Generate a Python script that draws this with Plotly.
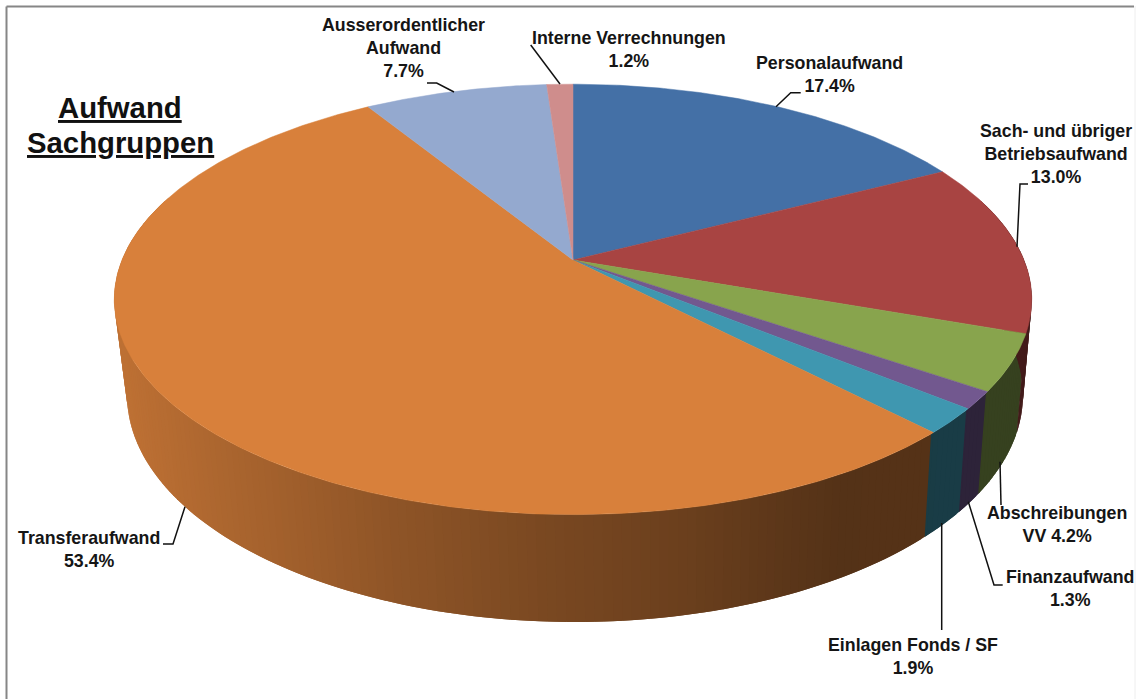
import numpy as np
import plotly.graph_objects as go

# ---- data ----
categories = ["Personalaufwand", "Sach- und übriger Betriebsaufwand", "Abschreibungen VV",
              "Finanzaufwand", "Einlagen Fonds / SF", "Transferaufwand",
              "Ausserordentlicher Aufwand", "Interne Verrechnungen"]
shares = [17.4, 13.0, 4.2, 1.3, 1.9, 53.4, 7.7, 1.2]
colors = ["#4470A6", "#A84442", "#88A44D", "#72588F", "#3F97B0", "#D8803B", "#94A9CF", "#CF8D8C"]
label_text = ["Personalaufwand<br>17.4%", "Sach- und übriger<br>Betriebsaufwand<br>13.0%",
              "Abschreibungen<br>VV 4.2%", "Finanzaufwand<br>1.3%", "Einlagen Fonds / SF<br>1.9%",
              "Transferaufwand<br>53.4%", "Ausserordentlicher<br>Aufwand<br>7.7%",
              "Interne Verrechnungen<br>1.2%"]
title_lines = ["Aufwand", "Sachgruppen"]

# ---- layout constants (pixel-like axis units) ----
label_pos = [(829, 74), (1056, 153.5), (1056.5, 524.5), (1069.5, 588.5), (913, 656), (89, 549.5), (403, 47.5), (629, 49)]
title_pos = [(120, 107), (120, 142)]
leaders = [[(800.7, 92.7), (790.7, 92.7), (776, 106.7)],
           [(1028, 184), (1020, 184), (1017, 246.7)],
           [(1000, 461.7), (1001, 505)],
           [(968.3, 501.7), (994, 585), (1002.7, 585)],
           [(941.7, 523), (941.7, 630)],
           [(185, 506.7), (173, 544), (163, 544)],
           [(427, 83), (436.7, 83), (454, 92)],
           [(530.7, 45), (560, 84)]]
W, H = 1138, 699
K = 0.183
TOP = dict(x0=573.0, y0=260.0, A=451.0, B=208.0)
LOW = dict(x0=575.0, y0=353.5, A=440.4, B=219.4)
FONT = "Liberation Sans, Arial, sans-serif"


def project(theta_deg, p):
    t = np.radians(theta_deg)
    u, v = np.sin(t), np.cos(t)
    d = 1 + K * v
    return p["x0"] + p["A"] * u / d, p["y0"] - p["B"] * v / d


def shade(x):
    return float(np.interp(x, [115, 130, 400, 560, 700, 800, 850, 1040],
                           [.88, .87, .66, .56, .49, .42, .39, .40]))


def darker(hex_color, f):
    rgb = [int(hex_color[i:i + 2], 16) for i in (1, 3, 5)]
    return "rgb(%d,%d,%d)" % tuple(round(c * f) for c in rgb)


fig = go.Figure()
# the printed percentages add up to 100.1 through rounding; the last wedge closes the circle
cum = np.minimum(np.concatenate([[0], np.cumsum(shares)]) * 3.6, 360.0)

# side wall: overlapping bands, each covering the seam of the previous one
STEP = 1.0
OVERLAP = 1.0
for i in range(len(shares) - 1, -1, -1):
    col = colors[i]
    a0, a1 = cum[i], cum[i + 1]
    n = max(1, int(np.ceil((a1 - a0) / STEP)))
    edges = np.linspace(a0, a1, n + 1)
    for s, e in reversed(list(zip(edges[:-1], edges[1:]))):
        mid = (s + e) / 2
        if np.cos(np.radians(mid)) > 0.3:
            continue
        e_over = min(e + OVERLAP, a1 + 0.4)
        xt0, yt0 = project(s, TOP)
        xt1, yt1 = project(e_over, TOP)
        xb0, yb0 = project(s, LOW)
        xb1, yb1 = project(e_over, LOW)
        xm0, _ = project(s, TOP)
        xm1, _ = project(e, TOP)
        c = darker(col, shade((xm0 + xm1) / 2))
        fig.add_trace(go.Scatter(x=[xt0, xt1, xb1, xb0, xt0], y=[yt0, yt1, yb1, yb0, yt0],
                                 mode="none", fill="toself", fillcolor=c,
                                 hoverinfo="skip", showlegend=False))

# top face wedges
for i, (name, col, share) in enumerate(zip(categories, colors, shares)):
    th = np.linspace(cum[i], cum[i + 1], max(4, int((cum[i + 1] - cum[i]) * 2)))
    xr, yr = project(th, TOP)
    x = np.concatenate([[TOP["x0"]], xr, [TOP["x0"]]])
    y = np.concatenate([[TOP["y0"]], yr, [TOP["y0"]]])
    fig.add_trace(go.Scatter(x=x, y=y, mode="lines", fill="toself", fillcolor=col,
                             line=dict(color=col, width=0.5), name=name,
                             text=f"{name}: {share}%", hoverinfo="text", showlegend=False))

# leader lines
for pts in leaders:
    fig.add_trace(go.Scatter(x=[p[0] for p in pts], y=[p[1] for p in pts], mode="lines",
                             line=dict(color="#111111", width=1.5), hoverinfo="skip", showlegend=False))

annotations = []
for t, p in zip(label_text, label_pos):
    annotations.append(dict(x=p[0], y=p[1], text="<b>" + t + "</b>", showarrow=False, xref="x", yref="y",
                            xanchor="center", yanchor="middle", align="center",
                            font=dict(family=FONT, size=17.8, color="#151515")))
for t, p in zip(title_lines, title_pos):
    annotations.append(dict(x=p[0], y=p[1], text="<b><u>" + t + "</u></b>", showarrow=False,
                            xref="x", yref="y", xanchor="center", yanchor="middle", align="center",
                            font=dict(family=FONT, size=29.3, color="#111111")))

shapes = [
    dict(type="line", xref="x", yref="y", x0=6.5, y0=6.5, x1=1134, y1=6.5, line=dict(color="#868686", width=2)),
    dict(type="line", xref="x", yref="y", x0=6.5, y0=6.5, x1=6.5, y1=699, line=dict(color="#868686", width=2)),
    dict(type="line", xref="x", yref="y", x0=1135, y0=6, x1=1135, y1=699, line=dict(color="#eeeeee", width=1)),
]

fig.update_layout(width=W, height=H, margin=dict(l=0, r=0, t=0, b=0),
                  paper_bgcolor="white", plot_bgcolor="white",
                  xaxis=dict(range=[0, W], visible=False, fixedrange=True),
                  yaxis=dict(range=[H, 0], visible=False, fixedrange=True),
                  annotations=annotations, shapes=shapes, showlegend=False)

fig.write_html("out.html", config=dict(displayModeBar=False),
               post_script="document.body.style.margin='0';document.body.style.overflow='hidden';")
